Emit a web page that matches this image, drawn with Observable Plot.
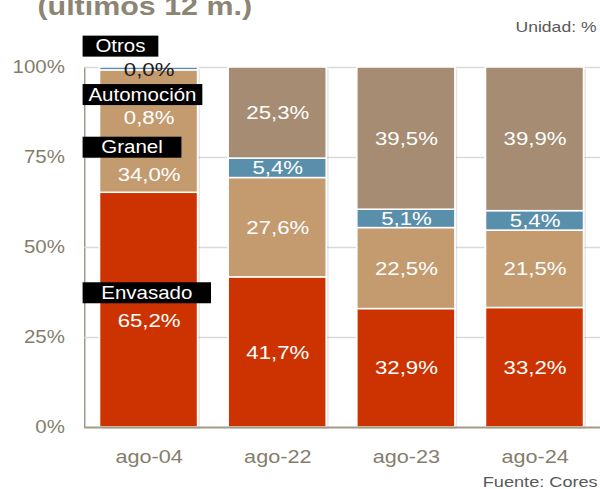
<!DOCTYPE html>
<html><head><meta charset="utf-8">
<script src="https://cdn.jsdelivr.net/npm/d3@7"></script>
<script src="https://cdn.jsdelivr.net/npm/@observablehq/plot@0.6"></script>
<style>
html,body{margin:0;padding:0;background:#fff;overflow:hidden;}
#wrap{position:relative;width:513px;height:489px;transform-origin:0 0;transform:scaleX(1.1696);font-family:"Liberation Sans",Arial,sans-serif;}
#title{position:absolute;left:32px;top:-7px;font-size:26px;line-height:26px;font-weight:bold;color:#8C8573;white-space:nowrap;}
#unit{position:absolute;right:3px;top:19px;font-size:15px;line-height:15px;color:#595959;white-space:nowrap;}
#source{position:absolute;right:2px;top:474px;font-size:15.5px;line-height:15.5px;color:#595959;white-space:nowrap;}
#chart{position:absolute;left:0;top:0;}
</style></head><body>
<div id="wrap"><div id="chart"></div><div id="title">(últimos 12 m.)</div><div id="unit">Unidad: %</div><div id="source">Fuente: Cores</div></div>
<script>
// ---- data ----
const periods = ["ago-04", "ago-22", "ago-23", "ago-24"];
const series = ["Envasado", "Granel", "Automoción", "Otros"];
const envasado = [65.2, 41.7, 32.9, 33.2];
const granel = [34.0, 27.6, 22.5, 21.5];
const automocion = [0.8, 5.4, 5.1, 5.4];
const otros = [0.0, 25.3, 39.5, 39.9];
const yTicks = [0, 25, 50, 75, 100];

// ---- styles ----
const colors = ["#CD3300", "#C39B6F", "#5A8FAB", "#A58C72"];
const firstLabel = {
  "Envasado":   {nameDy: -17, valueDy: 11, pad: 16, valueFill: "white"},
  "Granel":     {nameDy: 16,  valueDy: 43, pad: 16, valueFill: "white"},
  "Automoción": {nameDy: 26,  valueDy: 49, pad: 5,  valueFill: "white"},
  "Otros":      {nameDy: -21, valueDy: 2,  pad: 11, valueFill: "#1a1a1a"}
};

const valuesBySeries = {"Envasado": envasado, "Granel": granel, "Automoción": automocion, "Otros": otros};
const rows = [];
const totals = [];
periods.forEach((p, i) => {
  let acc = 0;
  series.forEach(s => {
    const v = valuesBySeries[s][i];
    rows.push({period: p, series: s, value: v, y1: acc, y2: acc + v, mid: acc + v / 2});
    acc += v;
  });
  totals.push({period: p, total: acc});
});
const fmt = v => d3.format(".1f")(v).replace(".", ",") + "%";

const W = 513, ML = 72, PI = 0.233, PO = 0.1165;
const step = (W - ML) / periods.length;
const bw = step * (1 - PI);

const marks = [
  Plot.ruleY(yTicks.filter(d => d > 0), {stroke: "#D9D9D9", strokeWidth: 1.5}),
  Plot.barY(totals, {x: "period", y1: 0, y2: "total", fill: "#000", fillOpacity: 0.1, dx: 2, dy: 2}),
  Plot.barY(rows, {x: "period", y1: "y1", y2: "y2", fill: "series", stroke: "white", strokeWidth: 1.5}),
  Plot.ruleY([0], {stroke: "#A39B86", strokeWidth: 2}),
  Plot.text(rows.filter(d => d.period !== periods[0]), {x: "period", y: "mid", text: d => fmt(d.value), fill: "white", fontSize: 19})
];
series.forEach((s, i) => {
  const st = firstLabel[s];
  const r = rows.filter(d => d.period === periods[0] && d.series === s);
  marks.push(Plot.text(r, {x: "period", y: "mid", text: d => fmt(d.value), fill: st.valueFill, fontSize: 19, dy: st.valueDy}));
  marks.push(Plot.text(r, {x: "period", y: "mid", text: "series", fill: "white", fontSize: 17.5, textAnchor: "start",
    dx: -bw / 2 - 14.6 + st.pad, dy: st.nameDy}));
});

const plot = Plot.plot({
  width: W, height: 489,
  marginLeft: ML, marginRight: 0, marginTop: 67, marginBottom: 62,
  style: {fontFamily: "'Liberation Sans', Arial, sans-serif", fontSize: "17.5px", color: "#857D6B", background: "transparent", overflow: "visible"},
  x: {domain: periods, paddingInner: PI, paddingOuter: PO, tickSize: 0, tickPadding: 22, label: null},
  y: {domain: [0, 100], ticks: yTicks, tickFormat: d => d + "%", tickSize: 0, tickPadding: 17, label: null, line: true},
  color: {domain: series, range: colors},
  marks
});
document.getElementById("chart").append(plot);

d3.select(plot).selectAll('g[aria-label^="x-axis"] text').style("font-size", "18.5px");
d3.select(plot).selectAll('g[aria-label^="y-axis"] path, g[aria-label^="y-axis"] line').attr("stroke-width", 2).attr("stroke", "#A39B86");

// black boxes behind the series-name labels
plot.querySelectorAll("text").forEach(function (node) {
  const s = node.textContent;
  if (!(s in firstLabel)) return;
  const pad = firstLabel[s].pad;
  const bb = node.getBBox();
  const rect = document.createElementNS("http://www.w3.org/2000/svg", "rect");
  const cy = bb.y + bb.height / 2;
  rect.setAttribute("x", bb.x - pad);
  rect.setAttribute("width", bb.width + 2 * pad);
  rect.setAttribute("y", cy - 10.5);
  rect.setAttribute("height", 21);
  rect.setAttribute("fill", "black");
  const t = node.getAttribute("transform");
  if (t) rect.setAttribute("transform", t);
  node.parentNode.insertBefore(rect, node);
});
</script>
</body></html>
